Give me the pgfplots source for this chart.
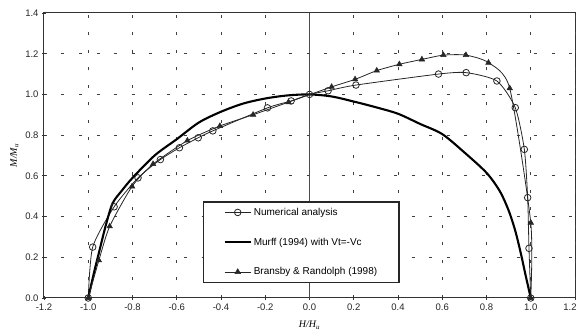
\documentclass[border=0pt]{standalone}
\usepackage{fontspec}
\setmainfont{Liberation Sans}
\newfontfamily\seriffont{Liberation Serif}
\usepackage{pgfplots}
\pgfplotsset{compat=1.18}
\begin{document}
\begin{tikzpicture}
\begin{axis}[
  scale only axis, width=531pt, height=285pt,
  xmin=-1.2, xmax=1.2, ymin=0, ymax=1.4,
  xtick={-1.2,-1.0,-0.8,-0.6,-0.4,-0.2,0,0.2,0.4,0.6,0.8,1.0},
  extra x ticks={1.2},
  extra x tick style={xticklabel style={/tikz/xshift=-5pt}},
  ytick={0,0.2,0.4,0.6,0.8,1.0,1.2,1.4},
  xticklabel style={/pgf/number format/.cd, fixed, fixed zerofill, precision=1},
  yticklabel style={/pgf/number format/.cd, fixed, fixed zerofill, precision=1},
  /pgf/number format/assume math mode=true,
  tick label style={font=\fontsize{9.5}{11}\selectfont, text=black!85},
  xtick pos=left, ytick pos=left,
  grid=major,
  major grid style={black!75, line width=1pt, dash pattern=on 3pt off 14.5pt},
  axis line style={black!80, line width=1pt},
  tick style={black!80, line width=0.8pt},
  major tick length=4pt, tick align=center,
  xlabel={\seriffont\itshape H/H\textsubscript{u}},
  ylabel={\seriffont\itshape M/M\textsubscript{u}},
  label style={font=\fontsize{10}{12}\selectfont},
  legend image code/.code={\draw[mark repeat=2,mark phase=2,#1] plot coordinates {(0pt,0pt) (13pt,0pt) (26pt,0pt)};},
  legend style={draw=black!85, line width=1.4pt, fill=white, at={(0.2994,0.0526)}, anchor=south west,
    inner xsep=20pt, inner ysep=4pt, row sep=17pt, font=\fontsize{10}{12}\selectfont, cells={anchor=west}},
  legend cell align=left,
]
\addplot[black!70, line width=0.9pt, forget plot] coordinates {(0,0) (0,1.4)};

\addplot[black!85, line width=0.8pt, smooth, tension=0.4, mark=o, mark size=3.3pt, mark options={solid, fill=white, line width=0.8pt}] coordinates {
(-1.0,0) (-0.98,0.25) (-0.883,0.448) (-0.775,0.59) (-0.674,0.68) (-0.588,0.738) (-0.503,0.787) (-0.437,0.821)
(-0.19,0.934) (-0.083,0.968) (0,1.0) (0.084,1.018) (0.21,1.046) (0.583,1.10) (0.708,1.107) (0.847,1.066)
(0.93,0.935) (0.971,0.73) (0.986,0.493) (0.992,0.244) (1.0,0)};
\addlegendentry{Numerical analysis}

\addplot[black, line width=2.1pt, smooth, tension=0.5] coordinates {
(-1,0) (-0.975,0.12) (-0.95,0.23) (-0.92,0.36) (-0.89,0.465) (-0.85,0.525) (-0.8,0.59) (-0.7,0.70) (-0.6,0.78)
(-0.5,0.862) (-0.4,0.915) (-0.3,0.955) (-0.2,0.98) (-0.1,0.995) (0,1.0) (0.1,0.99) (0.2,0.965) (0.3,0.937)
(0.4,0.905) (0.5,0.855) (0.6,0.805) (0.7,0.715) (0.8,0.615) (0.86,0.525) (0.9,0.43) (0.93,0.33) (0.955,0.22)
(0.975,0.12) (1.0,0)};
\addlegendentry{Murff (1994) with Vt=-Vc}

\addplot[black!85, line width=0.8pt, smooth, tension=0.4, mark=triangle*, mark size=3.2pt, mark options={solid, fill=black!85, line width=0.5pt}] coordinates {
(-1.0,0) (-0.952,0.185) (-0.903,0.352) (-0.802,0.548) (-0.707,0.658) (-0.552,0.773) (-0.405,0.845) (-0.255,0.9)
(-0.095,0.962) (0.1,1.037) (0.206,1.074) (0.304,1.117) (0.406,1.148) (0.508,1.172) (0.605,1.193) (0.707,1.193)
(0.809,1.156) (0.905,1.03) (1.0,0.37) (1.0,0)};
\addlegendentry{Bransby \& Randolph (1998)}
\end{axis}
\pgfresetboundingbox
\useasboundingbox (-44pt,-38pt) rectangle (536pt,298pt);
\end{tikzpicture}
\end{document}
